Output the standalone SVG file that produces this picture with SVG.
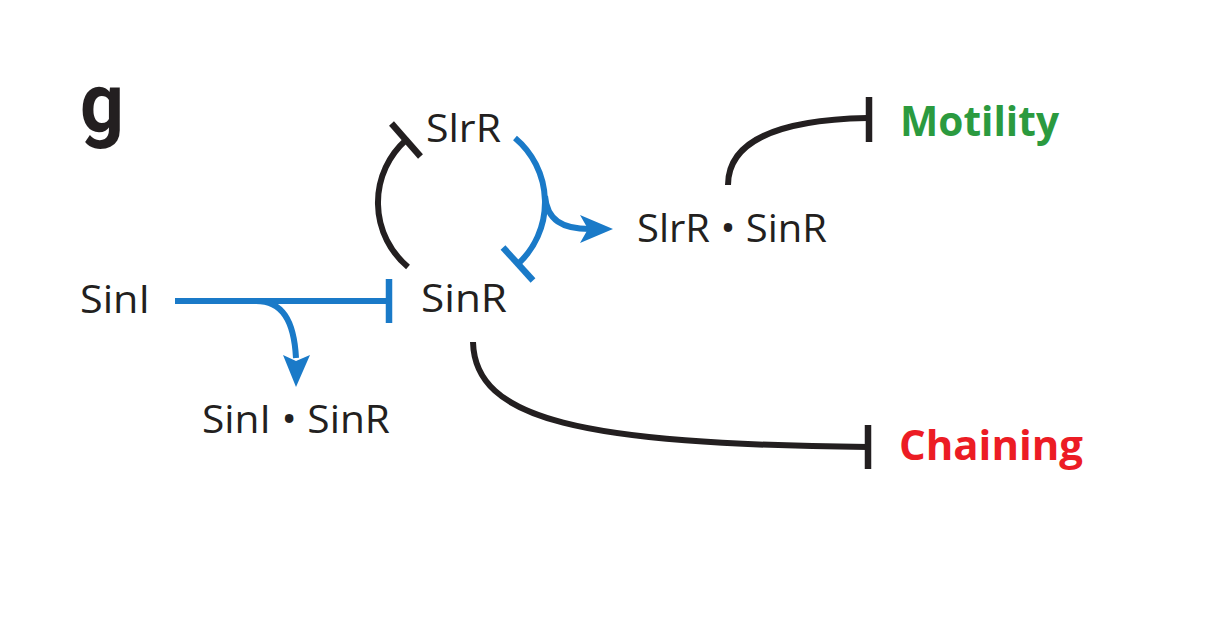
<svg xmlns="http://www.w3.org/2000/svg" width="1227" height="633" viewBox="0 0 1227 633">
  <style>
    .lbl { font-family: "Open Sans", "Liberation Sans", sans-serif; font-size: 38px; fill: #231f20; }
    .bold { font-family: "Open Sans", "Liberation Sans", sans-serif; font-weight: bold; font-size: 42px; }
    .blk { fill: none; stroke: #231f20; stroke-width: 6; }
    .blu { fill: none; stroke: #1a7ac8; stroke-width: 6; }
    .teeb { fill: none; stroke: #231f20; stroke-width: 6.5; }
    .teeu { fill: none; stroke: #1a7ac8; stroke-width: 6.5; }
    .head { fill: #1a7ac8; stroke: none; }
  </style>
  <rect width="1227" height="633" fill="#ffffff"/>

  <text x="80" y="132" font-family="Roboto, Liberation Sans, sans-serif" font-weight="bold" font-size="83" fill="#231f20" textLength="44" lengthAdjust="spacingAndGlyphs">g</text>

  <g id="connectors">
    <!-- SinR inhibits SlrR -->
    <path class="blk" d="M408,267 A84,84 0 0 1 406,140"/>
    <path class="teeb" d="M391.5,123.5 L420.5,156.5"/>
    <!-- SlrR inhibits SinR -->
    <path class="blu" d="M515,138 A84,84 0 0 1 518,264"/>
    <path class="teeu" d="M503,247.5 L533,280.5"/>
    <!-- branch to SlrR.SinR -->
    <path class="blu" d="M545,196 C547,220 562,229 590,229"/>
    <polygon class="head" points="613,229 580,215 588,229 580,243"/>
    <!-- SinI inhibits SinR -->
    <path class="blu" d="M175,301 H389"/>
    <path class="teeu" d="M389,279 V323"/>
    <!-- branch to SinI.SinR -->
    <path class="blu" d="M256,301 C282,301 294,320 296,358"/>
    <polygon class="head" points="296,387 283,355 296,361 310,355"/>
    <!-- SinR inhibits Chaining -->
    <path class="blk" d="M473,342 C475,420 580,444 868,447"/>
    <path class="teeb" d="M868,425 V469"/>
    <!-- SlrR.SinR inhibits Motility -->
    <path class="blk" d="M728,185 C728,145 770,120 867,118"/>
    <path class="teeb" d="M869,97 V142"/>
  </g>

  <g id="node-SlrR"><text class="lbl" x="426" y="142" textLength="75" lengthAdjust="spacingAndGlyphs">SlrR</text></g>
  <g id="node-SinR"><text class="lbl" x="421" y="312" textLength="86" lengthAdjust="spacingAndGlyphs">SinR</text></g>
  <g id="node-SinI"><text class="lbl" x="80" y="313" textLength="70" lengthAdjust="spacingAndGlyphs">SinI</text></g>
  <g id="node-SinI-SinR"><text class="lbl" x="202" y="433" textLength="188" lengthAdjust="spacingAndGlyphs">SinI • SinR</text></g>
  <g id="node-SlrR-SinR"><text class="lbl" x="637" y="242" textLength="190" lengthAdjust="spacingAndGlyphs">SlrR • SinR</text></g>
  <g id="node-Motility"><text class="bold" x="900" y="136" fill="#2b9a3f" textLength="159" lengthAdjust="spacingAndGlyphs">Motility</text></g>
  <g id="node-Chaining"><text class="bold" x="899" y="460" fill="#ec1c24" textLength="184" lengthAdjust="spacingAndGlyphs">Chaining</text></g>
</svg>
